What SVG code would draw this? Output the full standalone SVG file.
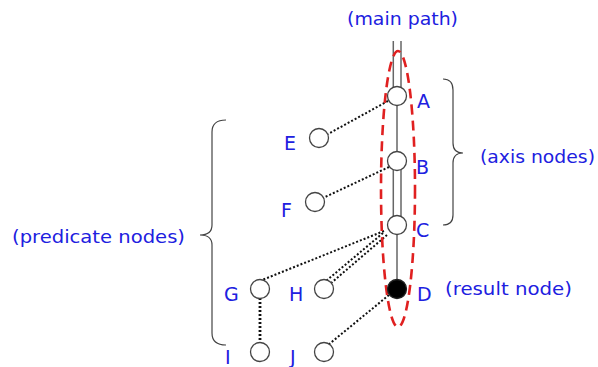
<svg xmlns="http://www.w3.org/2000/svg" width="598" height="367" viewBox="0 0 598 367">
<style>
.lbl{font-family:"DejaVu Sans","Noto Sans",sans-serif;font-size:17px;fill:#2020e0}
.let{font-size:19px}
.nd{fill:#fff;stroke:#444;stroke-width:1.3}
.ln{stroke:#666;stroke-width:1.5;fill:none}
.dot{stroke:#111;stroke-width:2;stroke-dasharray:2,2;fill:none}
.br{stroke:#444;stroke-width:1.2;fill:none}
</style>
<rect width="598" height="367" fill="#fff"/>
<g id="connectors">
<line class="ln" x1="393.3" y1="41" x2="393.3" y2="88"/>
<line class="ln" x1="401" y1="41" x2="401" y2="88"/>
<line class="ln" x1="397" y1="105" x2="397" y2="152"/>
<line class="ln" x1="393.3" y1="170" x2="393.3" y2="217"/>
<line class="ln" x1="401" y1="170" x2="401" y2="217"/>
<line class="ln" x1="397" y1="234" x2="397" y2="281"/>
<line class="dot" x1="388" y1="101" x2="328" y2="134"/>
<line class="dot" x1="389" y1="167" x2="323" y2="198"/>
<line class="dot" x1="384" y1="231" x2="262" y2="280"/>
<line class="dot" x1="383" y1="233" x2="326" y2="281"/>
<line class="dot" x1="387" y1="235" x2="330" y2="284"/>
<line class="dot" x1="389" y1="295" x2="328" y2="345"/>
<line class="dot" x1="260" y1="298" x2="260" y2="343" style="stroke-width:2.8"/>
</g>
<ellipse id="highlight" cx="398" cy="189" rx="17" ry="138" fill="none" stroke="#e02020" stroke-width="2.6" stroke-dasharray="10,6"/>
<g id="A"><circle class="nd" cx="397" cy="96" r="9.5"/><text class="lbl let" x="417" y="108">A</text></g>
<g id="B"><circle class="nd" cx="397" cy="161" r="9.5"/><text class="lbl let" x="416" y="174">B</text></g>
<g id="C"><circle class="nd" cx="397" cy="225" r="9.5"/><text class="lbl let" x="416" y="237">C</text></g>
<g id="D"><circle cx="397" cy="289" r="9.5" fill="#000" stroke="#222" stroke-width="1.3"/><text class="lbl let" x="417" y="301">D</text></g>
<g id="E"><circle class="nd" cx="319" cy="138" r="9.5"/><text class="lbl let" x="284" y="150">E</text></g>
<g id="F"><circle class="nd" cx="315" cy="202" r="9.5"/><text class="lbl let" x="281" y="217">F</text></g>
<g id="G"><circle class="nd" cx="260" cy="289" r="9.5"/><text class="lbl let" x="224" y="301">G</text></g>
<g id="H"><circle class="nd" cx="324" cy="289" r="9.5"/><text class="lbl let" x="289" y="301">H</text></g>
<g id="I"><circle class="nd" cx="260" cy="352" r="9.5"/><text class="lbl let" x="225" y="364">I</text></g>
<g id="J"><circle class="nd" cx="324" cy="352" r="9.5"/><text class="lbl let" x="290" y="364">J</text></g>
<g id="main-path-label"><text class="lbl" x="347" y="25" textLength="111" lengthAdjust="spacingAndGlyphs">(main path)</text></g>
<g id="axis-nodes"><path class="br" d="M443,79 Q453,79 453,90 L453,143 Q453,153 463,153 Q453,153 453,163 L453,215 Q453,225 443,225"/><text class="lbl" x="480" y="163" textLength="115" lengthAdjust="spacingAndGlyphs">(axis nodes)</text></g>
<g id="result-node"><text class="lbl" x="445" y="295" textLength="127" lengthAdjust="spacingAndGlyphs">(result node)</text></g>
<g id="predicate-nodes"><path class="br" d="M226,120 Q212,120 212,132 L212,225 Q212,235 200,235 Q212,235 212,245 L212,333 Q212,345 226,345"/><text class="lbl" x="12" y="243" textLength="173" lengthAdjust="spacingAndGlyphs">(predicate nodes)</text></g>
</svg>
